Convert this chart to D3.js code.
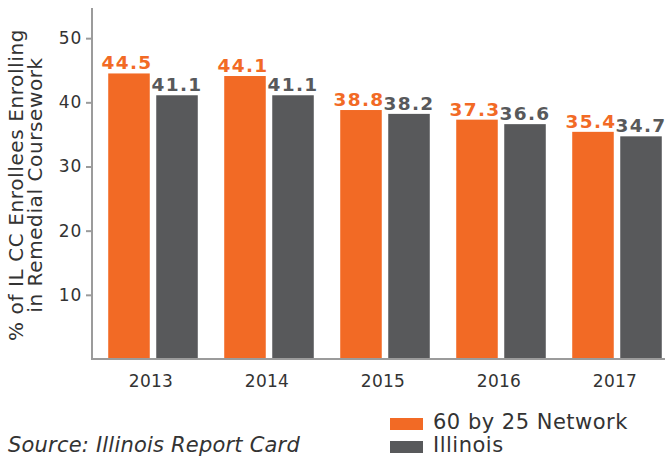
<!DOCTYPE html>
<html>
<head>
<meta charset="utf-8">
<script src="https://cdn.jsdelivr.net/npm/d3@7"></script>
<style>
  body { margin: 0; background: #fff; }
  svg { display: block; font-family: "DejaVu Sans", sans-serif; }
</style>
</head>
<body>
<svg width="665" height="456"></svg>
<script>
// values
let years = ["2013", "2014", "2015", "2016", "2017"];
let seriesNames = ["60 by 25 Network", "Illinois"];
let network = [44.5, 44.1, 38.8, 37.3, 35.4];
let illinois = [41.1, 41.1, 38.2, 36.6, 34.7];
let yTicks = [10, 20, 30, 40, 50];
let titleLines = ["% of IL CC Enrollees Enrolling", "in Remedial Coursework"];
let source = "Source: Illinois Report Card";

let colors = { "60 by 25 Network": "#F26A25", "Illinois": "#58595B" };

let rows = years.map((yr, i) => ({
    year: yr,
    values: [
        { key: seriesNames[0], value: network[i] },
        { key: seriesNames[1], value: illinois[i] }
    ]
}));

let svg = d3.select("svg");

let x0 = d3.scaleBand()
    .domain(years)
    .range([95, 675])
    .paddingInner(0.228)
    .paddingOuter(0.114);

let x1 = d3.scaleBand()
    .domain(seriesNames)
    .range([0, x0.bandwidth()])
    .paddingInner(0.135);

let y = d3.scaleLinear()
    .domain([0, 54.7])
    .range([359, 8]);

// bars
let groups = svg.append("g")
    .attr("class", "bars")
    .selectAll("g")
    .data(rows)
    .enter().append("g")
    .attr("transform", d => `translate(${x0(d.year)},0)`);

groups.selectAll("rect")
    .data(d => d.values)
    .enter().append("rect")
    .attr("x", d => x1(d.key))
    .attr("width", x1.bandwidth())
    .attr("y", d => y(d.value))
    .attr("height", d => y(0) - y(d.value))
    .attr("fill", d => colors[d.key]);

groups.selectAll("text")
    .data(d => d.values)
    .enter().append("text")
    .attr("x", d => x1(d.key) + x1.bandwidth() / 2 + (d.key === seriesNames[0] ? -2 : 0))
    .attr("y", d => y(d.value) - 4)
    .attr("text-anchor", "middle")
    .attr("font-size", 18.5)
    .attr("font-weight", "bold")
    .attr("letter-spacing", 1.4)
    .attr("fill", d => colors[d.key])
    .text(d => d.value.toFixed(1));

// y axis
let yAxis = svg.append("g")
    .attr("transform", "translate(92,0)")
    .call(d3.axisLeft(y).tickValues(yTicks).tickSize(6).tickPadding(4));

yAxis.select(".domain").remove();
yAxis.selectAll(".tick line").attr("stroke", "#9B9B9B").attr("stroke-width", 2);
yAxis.selectAll(".tick text")
    .attr("font-family", "DejaVu Sans")
    .attr("font-size", 17)
    .attr("letter-spacing", 0.8)
    .attr("fill", "#333");

svg.append("line")
    .attr("x1", 92).attr("x2", 92)
    .attr("y1", y.range()[1]).attr("y2", y(0))
    .attr("stroke", "#9B9B9B").attr("stroke-width", 2);

// x axis
let xAxis = svg.append("g")
    .attr("transform", `translate(0,${y(0)})`)
    .call(d3.axisBottom(x0).tickSize(0).tickPadding(16));

xAxis.select(".domain").remove();
xAxis.selectAll(".tick text")
    .attr("font-family", "DejaVu Sans")
    .attr("font-size", 17)
    .attr("letter-spacing", 0.3)
    .attr("dx", -2)
    .attr("fill", "#333");

svg.append("line")
    .attr("x1", 91).attr("x2", 665)
    .attr("y1", y(0)).attr("y2", y(0))
    .attr("stroke", "#9B9B9B").attr("stroke-width", 2);

// y title
let title = svg.append("text")
    .attr("transform", "translate(23,185) rotate(-90)")
    .attr("text-anchor", "middle")
    .attr("font-size", 20)
    .attr("letter-spacing", 0.6)
    .attr("fill", "#333");

title.selectAll("tspan")
    .data(titleLines)
    .enter().append("tspan")
    .attr("x", 0)
    .attr("dy", (d, i) => i === 0 ? 0 : 19)
    .text(d => d);

// source
svg.append("text")
    .attr("x", 8)
    .attr("y", 452)
    .attr("font-size", 21)
    .attr("font-style", "italic")
    .attr("letter-spacing", 0.2)
    .attr("fill", "#333")
    .text(source);

// legend
let legend = svg.append("g")
    .attr("class", "legend")
    .selectAll("g")
    .data(seriesNames)
    .enter().append("g")
    .attr("transform", (d, i) => `translate(390,${418 + i * 23})`);

legend.append("rect")
    .attr("width", 33)
    .attr("height", 12)
    .attr("fill", d => colors[d]);

legend.append("text")
    .attr("x", 43)
    .attr("y", 11)
    .attr("font-size", 21)
    .attr("letter-spacing", 0.5)
    .attr("fill", "#333")
    .text(d => d);
</script>
</body>
</html>
